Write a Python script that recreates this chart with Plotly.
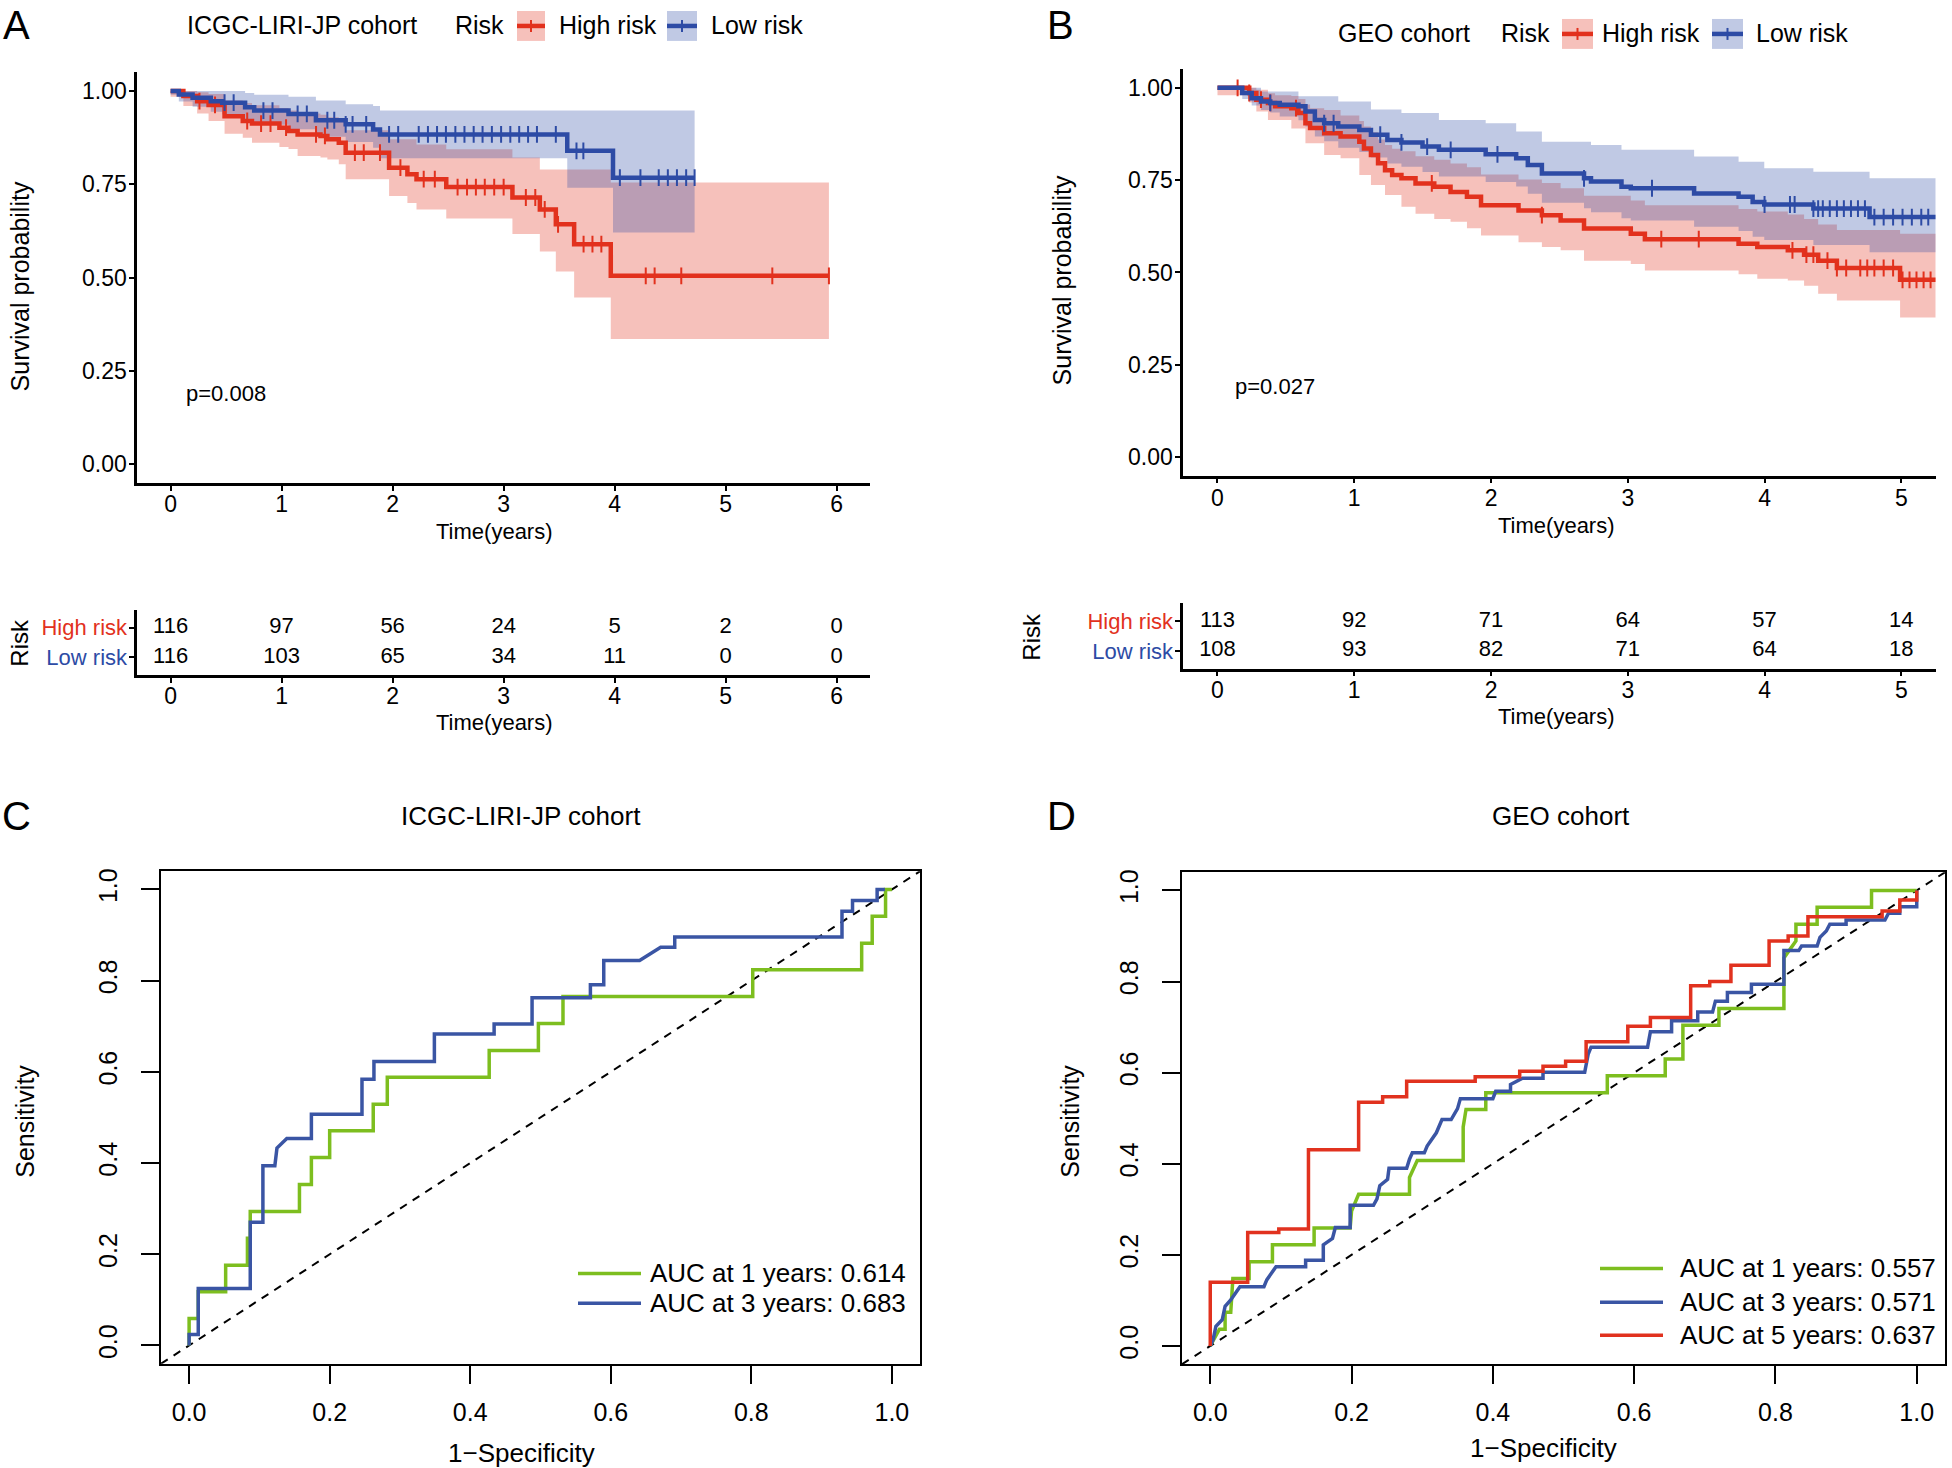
import numpy as np
import plotly.graph_objects as go

W, H = 1952, 1468
FONT = "Liberation Sans, Arial, Helvetica, sans-serif"
RED = "#E2311D"
BLUE = "#2D4BA5"
RED_BAND = "rgba(226,49,29,0.30)"
BLUE_BAND = "rgba(45,75,165,0.30)"
ROC_GREEN = "#7DBE1F"
ROC_BLUE = "#3A55A4"
ROC_RED = "#E1321F"

# ---------------- Panel A: ICGC-LIRI-JP KM ----------------
A_high_t = [0, 0.115, 0.239, 0.342, 0.486, 0.650, 0.733, 0.98, 1.062, 1.144, 1.35, 1.412, 1.515, 1.577,
            1.968, 2.133, 2.215, 2.483, 3.079, 3.326, 3.47, 3.635, 3.965, 5.93]
A_high_s = [1.0, 0.987, 0.973, 0.963, 0.933, 0.92, 0.913, 0.902, 0.893, 0.884, 0.88, 0.871, 0.862, 0.835,
            0.795, 0.777, 0.764, 0.743, 0.715, 0.683, 0.643, 0.590, 0.505, 0.505]
A_high_lo = [0.985, 0.96, 0.94, 0.92, 0.886, 0.875, 0.862, 0.85, 0.845, 0.826, 0.822, 0.817, 0.804, 0.764,
             0.719, 0.70, 0.683, 0.659, 0.617, 0.57, 0.517, 0.447, 0.336, 0.336]
A_high_hi = [1.0, 1.0, 0.997, 0.992, 0.975, 0.968, 0.962, 0.955, 0.948, 0.94, 0.937, 0.93, 0.922, 0.895,
             0.871, 0.871, 0.857, 0.844, 0.822, 0.79, 0.79, 0.79, 0.755, 0.755]
A_high_cens = [0.26, 0.40, 0.69, 0.815, 0.90, 1.04, 1.31, 1.39, 1.66, 1.74, 1.886, 2.07, 2.28, 2.38, 2.585,
               2.67, 2.75, 2.83, 2.915, 3.0, 3.2, 3.285, 3.37, 3.49, 3.72, 3.80, 3.88, 4.28, 4.36, 4.6, 5.42, 5.93]

A_low_t = [0, 0.074, 0.198, 0.362, 0.465, 0.671, 0.753, 1.062, 1.309, 1.577, 1.824, 1.886, 3.573, 3.985, 4.72]
A_low_s = [1.0, 0.991, 0.982, 0.973, 0.969, 0.957, 0.948, 0.939, 0.922, 0.911, 0.897, 0.884, 0.840, 0.768, 0.768]
A_low_lo = [0.99, 0.972, 0.958, 0.945, 0.938, 0.922, 0.91, 0.898, 0.878, 0.864, 0.848, 0.82, 0.741, 0.621, 0.621]
A_low_hi = [1.0, 1.0, 1.0, 1.0, 1.0, 0.995, 0.99, 0.985, 0.975, 0.965, 0.96, 0.948, 0.948, 0.948, 0.948]
A_low_cens = [0.486, 0.568, 0.836, 0.918, 1.144, 1.227, 1.412, 1.474, 1.577, 1.639, 1.762, 1.968, 2.05, 2.235,
              2.318, 2.4, 2.48, 2.565, 2.647, 2.73, 2.81, 2.894, 2.977, 3.06, 3.14, 3.22, 3.3, 3.47, 3.656,
              3.718, 4.047, 4.232, 4.397, 4.479, 4.561, 4.644, 4.72]

A_table_t = [0, 1, 2, 3, 4, 5, 6]
A_table_high = [116, 97, 56, 24, 5, 2, 0]
A_table_low = [116, 103, 65, 34, 11, 0, 0]

# ---------------- Panel B: GEO KM ----------------
B_high_t = [0, 0.232, 0.284, 0.369, 0.421, 0.54, 0.592, 0.643, 0.677, 0.78, 0.9, 1.037, 1.071, 1.122, 1.174,
            1.225, 1.277, 1.345, 1.448, 1.585, 1.704, 1.824, 1.927, 2.201, 2.372, 2.509, 2.68, 3.022, 3.125,
            3.81, 3.947, 4.17, 4.289, 4.392, 4.529, 4.991, 5.3]
B_high_s = [1.0, 0.986, 0.968, 0.959, 0.95, 0.945, 0.932, 0.904, 0.891, 0.877, 0.868, 0.854, 0.836, 0.818,
            0.796, 0.777, 0.764, 0.755, 0.741, 0.732, 0.718, 0.705, 0.682, 0.668, 0.655, 0.641, 0.619, 0.605,
            0.590, 0.578, 0.569, 0.56, 0.548, 0.532, 0.512, 0.480, 0.480]
B_high_lo = [0.98, 0.96, 0.936, 0.913, 0.913, 0.89, 0.89, 0.85, 0.85, 0.818, 0.809, 0.764, 0.764, 0.737,
             0.737, 0.71, 0.71, 0.678, 0.659, 0.645, 0.637, 0.62, 0.60, 0.582, 0.569, 0.56, 0.532, 0.523,
             0.505, 0.495, 0.483, 0.478, 0.464, 0.442, 0.424, 0.378, 0.378]
B_high_hi = [1.0, 1.0, 0.995, 0.985, 0.98, 0.978, 0.97, 0.955, 0.945, 0.94, 0.925, 0.91, 0.895, 0.88, 0.86,
             0.845, 0.835, 0.828, 0.815, 0.805, 0.795, 0.785, 0.765, 0.752, 0.742, 0.728, 0.708, 0.695,
             0.682, 0.672, 0.665, 0.657, 0.645, 0.63, 0.615, 0.605, 0.605]
B_high_cens = [0.147, 0.232, 0.318, 0.386, 0.574, 1.567, 2.372, 3.245, 3.519, 4.204, 4.306, 4.357, 4.46,
               4.529, 4.597, 4.70, 4.751, 4.803, 4.871, 4.94, 5.009, 5.06, 5.111, 5.163, 5.214]

B_low_t = [0, 0.181, 0.25, 0.318, 0.386, 0.455, 0.592, 0.643, 0.712, 0.78, 0.883, 1.037, 1.122, 1.242,
           1.345, 1.499, 1.619, 1.961, 2.184, 2.269, 2.372, 2.68, 2.731, 2.954, 3.022, 3.485, 3.81, 3.913,
           3.998, 4.357, 4.768, 5.3]
B_low_s = [1.0, 0.986, 0.972, 0.963, 0.959, 0.954, 0.95, 0.936, 0.913, 0.904, 0.895, 0.886, 0.873, 0.859,
           0.852, 0.841, 0.832, 0.82, 0.809, 0.791, 0.768, 0.755, 0.746, 0.732, 0.728, 0.714, 0.705, 0.691,
           0.684, 0.673, 0.650, 0.650]
B_low_lo = [1.0, 0.97, 0.952, 0.94, 0.933, 0.922, 0.912, 0.895, 0.868, 0.855, 0.838, 0.826, 0.811, 0.795,
            0.786, 0.772, 0.76, 0.745, 0.733, 0.713, 0.689, 0.674, 0.663, 0.647, 0.641, 0.624, 0.612, 0.597,
            0.588, 0.574, 0.555, 0.555]
B_low_hi = [1.0, 1.0, 1.0, 0.99, 0.99, 0.99, 0.977, 0.977, 0.977, 0.977, 0.963, 0.963, 0.941, 0.941, 0.932,
            0.932, 0.913, 0.904, 0.882, 0.882, 0.854, 0.854, 0.845, 0.832, 0.832, 0.814, 0.8, 0.8, 0.782,
            0.773, 0.755, 0.755]
B_low_cens = [0.386, 0.78, 0.849, 1.19, 1.345, 1.533, 1.705, 2.047, 2.68, 3.177, 4.0, 4.186, 4.22, 4.357,
              4.392, 4.426, 4.477, 4.529, 4.58, 4.632, 4.683, 4.734, 4.803, 4.871, 4.94, 5.009, 5.077,
              5.146, 5.197]

B_table_t = [0, 1, 2, 3, 4, 5]
B_table_high = [113, 92, 71, 64, 57, 14]
B_table_low = [108, 93, 82, 71, 64, 18]

# ---------------- Panel C: ICGC ROC ----------------
C_fpr_1 = [0, 0, 0.013, 0.013, 0.052, 0.052, 0.083, 0.083, 0.087, 0.087, 0.157, 0.157, 0.174, 0.174, 0.2,
           0.2, 0.262, 0.262, 0.282, 0.282, 0.427, 0.427, 0.497, 0.497, 0.532, 0.532, 0.802, 0.802, 0.957,
           0.957, 0.972, 0.972, 0.991, 0.991, 1.0]
C_tpr_1 = [0, 0.059, 0.059, 0.118, 0.118, 0.176, 0.176, 0.235, 0.235, 0.294, 0.294, 0.353, 0.353, 0.412,
           0.412, 0.471, 0.471, 0.529, 0.529, 0.588, 0.588, 0.647, 0.647, 0.706, 0.706, 0.765, 0.765, 0.824,
           0.824, 0.882, 0.882, 0.941, 0.941, 1.0, 1.0]
C_fpr_3 = [0, 0, 0.013, 0.013, 0.087, 0.087, 0.105, 0.105, 0.122, 0.125, 0.139, 0.174, 0.174, 0.246, 0.246,
           0.263, 0.263, 0.349, 0.349, 0.434, 0.434, 0.488, 0.488, 0.571, 0.571, 0.59, 0.59, 0.641, 0.671,
           0.691, 0.691, 0.929, 0.929, 0.944, 0.944, 0.979, 0.979, 0.99]
C_tpr_3 = [0, 0.024, 0.024, 0.125, 0.125, 0.27, 0.27, 0.394, 0.394, 0.433, 0.454, 0.454, 0.507, 0.507,
           0.584, 0.584, 0.623, 0.623, 0.683, 0.683, 0.705, 0.705, 0.7625, 0.7625, 0.791, 0.791, 0.844, 0.844,
           0.873, 0.873, 0.896, 0.896, 0.952, 0.952, 0.976, 0.976, 1.0, 1.0]
C_labels = ["AUC at 1 years: 0.614", "AUC at 3 years: 0.683"]

# ---------------- Panel D: GEO ROC ----------------
D_fpr_1 = [0, 0.013, 0.021, 0.021, 0.029, 0.032, 0.055, 0.055, 0.088, 0.088, 0.147, 0.147, 0.198, 0.2, 0.21,
           0.282, 0.282, 0.293, 0.358, 0.358, 0.362, 0.39, 0.39, 0.562, 0.562, 0.644, 0.644, 0.669, 0.669,
           0.72, 0.72, 0.812, 0.812, 0.829, 0.829, 0.859, 0.859, 0.936, 0.936, 1.0]
D_tpr_1 = [0, 0.037, 0.037, 0.074, 0.074, 0.148, 0.148, 0.185, 0.185, 0.222, 0.222, 0.259, 0.259, 0.296,
           0.333, 0.333, 0.37, 0.407, 0.407, 0.481, 0.519, 0.519, 0.556, 0.556, 0.593, 0.593, 0.63, 0.63,
           0.704, 0.704, 0.741, 0.741, 0.852, 0.889, 0.926, 0.926, 0.963, 0.963, 1.0, 1.0]
D_fpr_3 = [0, 0.004, 0.008, 0.017, 0.021, 0.029, 0.042, 0.076, 0.08, 0.093, 0.135, 0.135, 0.160, 0.160,
           0.173, 0.177, 0.198, 0.198, 0.231, 0.236, 0.24, 0.251, 0.253, 0.278, 0.282, 0.286, 0.303, 0.307,
           0.32, 0.328, 0.341, 0.35, 0.354, 0.4, 0.404, 0.425, 0.425, 0.442, 0.471, 0.471, 0.53, 0.535,
           0.539, 0.619, 0.623, 0.653, 0.653, 0.69, 0.69, 0.711, 0.715, 0.732, 0.732, 0.766, 0.766, 0.812,
           0.812, 0.833, 0.837, 0.859, 0.863, 0.872, 0.877, 0.9, 0.9, 0.955, 0.96, 0.976, 0.976, 1.0, 1.0]
D_tpr_3 = [0, 0.014, 0.043, 0.058, 0.087, 0.101, 0.13, 0.13, 0.145, 0.174, 0.174, 0.188, 0.188, 0.222,
           0.236, 0.26, 0.26, 0.309, 0.309, 0.323, 0.352, 0.366, 0.39, 0.39, 0.41, 0.424, 0.424, 0.439,
           0.468, 0.497, 0.497, 0.521, 0.543, 0.543, 0.559, 0.559, 0.574, 0.588, 0.588, 0.601, 0.601, 0.641,
           0.656, 0.656, 0.69, 0.69, 0.714, 0.714, 0.733, 0.733, 0.757, 0.757, 0.776, 0.776, 0.794, 0.794,
           0.868, 0.868, 0.878, 0.878, 0.897, 0.911, 0.926, 0.926, 0.935, 0.935, 0.95, 0.95, 0.964, 0.964, 1.0]
D_fpr_5 = [0, 0, 0.053, 0.053, 0.097, 0.097, 0.139, 0.139, 0.21, 0.21, 0.244, 0.244, 0.278, 0.278, 0.375,
           0.375, 0.438, 0.438, 0.471, 0.471, 0.503, 0.503, 0.532, 0.532, 0.591, 0.591, 0.623, 0.623, 0.68,
           0.68, 0.707, 0.707, 0.737, 0.737, 0.791, 0.791, 0.818, 0.818, 0.846, 0.846, 0.951, 0.951, 0.976,
           0.976, 1.0, 1.0]
D_tpr_5 = [0, 0.14, 0.14, 0.249, 0.249, 0.257, 0.257, 0.431, 0.431, 0.535, 0.535, 0.547, 0.547, 0.581, 0.581,
           0.591, 0.591, 0.603, 0.603, 0.614, 0.614, 0.625, 0.625, 0.668, 0.668, 0.702, 0.702, 0.721, 0.721,
           0.791, 0.791, 0.8, 0.8, 0.836, 0.836, 0.889, 0.889, 0.9, 0.9, 0.942, 0.942, 0.955, 0.955, 0.979,
           0.979, 1.0]
D_labels = ["AUC at 1 years: 0.557", "AUC at 3 years: 0.571", "AUC at 5 years: 0.637"]

ROC_RANGE = [-0.04, 1.04]


def px(x):
    return x / W


def py(y):
    return 1 - y / H


def step_at(t_arr, s_arr, times):
    idx = np.searchsorted(np.asarray(t_arr), np.asarray(times), side="right") - 1
    idx = np.clip(idx, 0, len(s_arr) - 1)
    return np.asarray(s_arr)[idx]


fig = go.Figure()


def add_band(xa, ya, t, lo, hi, band):
    fig.add_trace(go.Scatter(x=t, y=lo, mode="lines", line=dict(width=0, shape="hv"),
                             xaxis=xa, yaxis=ya, hoverinfo="skip", showlegend=False))
    fig.add_trace(go.Scatter(x=t, y=hi, mode="lines", line=dict(width=0, shape="hv"),
                             fill="tonexty", fillcolor=band,
                             xaxis=xa, yaxis=ya, hoverinfo="skip", showlegend=False))


def add_curve(xa, ya, t, s, cens, color):
    fig.add_trace(go.Scatter(x=t, y=s, mode="lines", line=dict(width=4.5, color=color, shape="hv"),
                             xaxis=xa, yaxis=ya, showlegend=False))
    fig.add_trace(go.Scatter(x=cens, y=step_at(t, s, cens), mode="markers",
                             marker=dict(symbol="line-ns", size=12, line=dict(width=2, color=color)),
                             xaxis=xa, yaxis=ya, showlegend=False))


# Panel A KM
add_band("x", "y", A_high_t, A_high_lo, A_high_hi, RED_BAND)
add_band("x", "y", A_low_t, A_low_lo, A_low_hi, BLUE_BAND)
add_curve("x", "y", A_high_t, A_high_s, A_high_cens, RED)
add_curve("x", "y", A_low_t, A_low_s, A_low_cens, BLUE)

# Panel B KM
add_band("x3", "y3", B_high_t, B_high_lo, B_high_hi, RED_BAND)
add_band("x3", "y3", B_low_t, B_low_lo, B_low_hi, BLUE_BAND)
add_curve("x3", "y3", B_high_t, B_high_s, B_high_cens, RED)
add_curve("x3", "y3", B_low_t, B_low_s, B_low_cens, BLUE)

# Risk tables
for xa, ya, tt, hi, lo in [("x2", "y2", A_table_t, A_table_high, A_table_low),
                           ("x4", "y4", B_table_t, B_table_high, B_table_low)]:
    fig.add_trace(go.Scatter(x=tt, y=[2] * len(tt), mode="text", text=[str(v) for v in hi],
                             textfont=dict(size=22, color="black", family=FONT),
                             xaxis=xa, yaxis=ya, showlegend=False))
    fig.add_trace(go.Scatter(x=tt, y=[1] * len(tt), mode="text", text=[str(v) for v in lo],
                             textfont=dict(size=22, color="black", family=FONT),
                             xaxis=xa, yaxis=ya, showlegend=False))

# ROC panels
for xa, ya in [("x5", "y5"), ("x6", "y6")]:
    fig.add_trace(go.Scatter(x=ROC_RANGE, y=ROC_RANGE, mode="lines",
                             line=dict(color="black", width=2, dash="8px,7px"),
                             xaxis=xa, yaxis=ya, showlegend=False))

fig.add_trace(go.Scatter(x=C_fpr_1, y=C_tpr_1, mode="lines", line=dict(color=ROC_GREEN, width=3.5),
                         xaxis="x5", yaxis="y5", showlegend=False))
fig.add_trace(go.Scatter(x=C_fpr_3, y=C_tpr_3, mode="lines", line=dict(color=ROC_BLUE, width=3.5),
                         xaxis="x5", yaxis="y5", showlegend=False))
fig.add_trace(go.Scatter(x=D_fpr_1, y=D_tpr_1, mode="lines", line=dict(color=ROC_GREEN, width=3.5),
                         xaxis="x6", yaxis="y6", showlegend=False))
fig.add_trace(go.Scatter(x=D_fpr_3, y=D_tpr_3, mode="lines", line=dict(color=ROC_BLUE, width=3.5),
                         xaxis="x6", yaxis="y6", showlegend=False))
fig.add_trace(go.Scatter(x=D_fpr_5, y=D_tpr_5, mode="lines", line=dict(color=ROC_RED, width=3.5),
                         xaxis="x6", yaxis="y6", showlegend=False))

# ---------------- Axes ----------------
km_axis = dict(showline=True, linecolor="black", linewidth=2.7, ticks="outside", ticklen=5, tickwidth=2,
               tickcolor="black", showgrid=False, zeroline=False,
               tickfont=dict(size=23, color="black", family=FONT))
roc_axis = dict(showline=True, mirror=True, linecolor="black", linewidth=1.6, ticks="outside", ticklen=18,
                tickwidth=1.6, tickcolor="black", showgrid=False, zeroline=False, range=ROC_RANGE,
                tickvals=[0, 0.2, 0.4, 0.6, 0.8, 1.0], ticktext=["0.0", "0.2", "0.4", "0.6", "0.8", "1.0"],
                tickfont=dict(size=25, color="black", family=FONT))

surv_ticks = dict(tickvals=[0, 0.25, 0.5, 0.75, 1.0], ticktext=["0.00", "0.25", "0.50", "0.75", "1.00"],
                  range=[-0.05, 1.05], ticklabelstandoff=-2)
risk_ticks = dict(range=[0.4, 2.6], tickvals=[1, 2], ticklabelstandoff=-2,
                  tickfont=dict(size=22, family=FONT),
                  ticktext=["<span style='color:%s'>Low risk</span>" % BLUE,
                            "<span style='color:%s'>High risk</span>" % RED])

layout = dict(
    width=W, height=H, margin=dict(l=0, r=0, t=0, b=0),
    plot_bgcolor="white", paper_bgcolor="white", showlegend=False,
    font=dict(family=FONT, color="black", size=22),
    xaxis=dict(km_axis, domain=[px(137.3), px(870)], range=[-0.3, 6.3], tickvals=A_table_t, anchor="y",
               ticklabelstandoff=-6),
    yaxis=dict(km_axis, domain=[py(481), py(69.6)], anchor="x", **surv_ticks),
    xaxis2=dict(km_axis, domain=[px(137.3), px(870)], range=[-0.3, 6.3], tickvals=A_table_t, anchor="y2",
                ticklabelstandoff=-6),
    yaxis2=dict(km_axis, domain=[py(673.3), py(608)], anchor="x2", **risk_ticks),
    xaxis3=dict(km_axis, domain=[px(1183.3), px(1935.5)], range=[-0.25, 5.25], tickvals=B_table_t,
                anchor="y3", ticklabelstandoff=-5),
    yaxis3=dict(km_axis, domain=[py(473.5), py(66.5)], anchor="x3", **surv_ticks),
    xaxis4=dict(km_axis, domain=[px(1183.3), px(1935.5)], range=[-0.25, 5.25], tickvals=B_table_t,
                anchor="y4", ticklabelstandoff=-6),
    yaxis4=dict(km_axis, domain=[py(667), py(601.6)], anchor="x4", **risk_ticks),
    xaxis5=dict(roc_axis, domain=[px(161), px(920)], anchor="y5", ticklabelstandoff=7),
    yaxis5=dict(roc_axis, domain=[py(1363.5), py(870)], anchor="x5", tickangle=-90, ticklabelstandoff=14),
    xaxis6=dict(roc_axis, domain=[px(1182), px(1945)], anchor="y6", ticklabelstandoff=7),
    yaxis6=dict(roc_axis, domain=[py(1364), py(871)], anchor="x6", tickangle=-90, ticklabelstandoff=14),
)
fig.update_layout(**layout)

# ---------------- Text annotations ----------------
ann = []


def text(x, y, s, size, xanchor="center", angle=0, color="black"):
    ann.append(dict(x=px(x), y=py(y), xref="paper", yref="paper", text=s, showarrow=False,
                    xanchor=xanchor, yanchor="middle", textangle=angle,
                    font=dict(size=size, color=color, family=FONT)))


# panel letters
text(16, 22, "A", 40)
text(1060, 22, "B", 40)
text(16, 815, "C", 40)
text(1061, 815, "D", 40)

# KM headers (legend)
text(185, 22, "ICGC-LIRI-JP cohort", 25, "left")
text(453, 22, "Risk", 25, "left")
text(557, 22, "High risk", 25, "left")
text(709, 22, "Low risk", 25, "left")
text(1336, 30, "GEO cohort", 25, "left")
text(1499, 30, "Risk", 25, "left")
text(1600, 30, "High risk", 25, "left")
text(1754, 30, "Low risk", 25, "left")

# KM axis titles
text(20, 284, "Survival probability", 25, angle=-90)
text(1062, 278, "Survival probability", 25, angle=-90)
text(494, 530, "Time(years)", 22)
text(494, 721, "Time(years)", 22)
text(1556, 524, "Time(years)", 22)
text(1556, 715, "Time(years)", 22)
text(20, 641, "Risk", 24, angle=-90)
text(1032, 635, "Risk", 24, angle=-90)

# ROC titles
text(521, 815, "ICGC-LIRI-JP cohort", 26)
text(1561, 815, "GEO cohort", 26)
text(25, 1121, "Sensitivity", 25, angle=-90)
text(1070, 1121, "Sensitivity", 25, angle=-90)
text(521, 1453, "1\u2212Specificity", 26)
text(1543, 1448, "1\u2212Specificity", 26)

# ROC legends
for lab, y in zip(C_labels, [1273, 1303]):
    text(648, y, lab, 26, "left")
for lab, y in zip(D_labels, [1268, 1302, 1335]):
    text(1678, y, lab, 26, "left")

# p values (data coordinates)
ann.append(dict(x=0.12, y=0.19, xref="x", yref="y", text="p=0.008", showarrow=False, xanchor="left",
                font=dict(size=22, color="black", family=FONT)))
ann.append(dict(x=0.11, y=0.19, xref="x3", yref="y3", text="p=0.027", showarrow=False, xanchor="left",
                font=dict(size=22, color="black", family=FONT)))

fig.update_layout(annotations=ann)

# ---------------- Legend keys (decorations) ----------------
shapes = []


def key(x0, x1, yc, color, band):
    shapes.append(dict(type="rect", xref="paper", yref="paper", x0=px(x0), x1=px(x1),
                       y0=py(yc + 15), y1=py(yc - 15), fillcolor=band, line=dict(width=0), layer="below"))
    shapes.append(dict(type="line", xref="paper", yref="paper", x0=px(x0), x1=px(x1),
                       y0=py(yc), y1=py(yc), line=dict(color=color, width=4.5)))
    xm = (x0 + x1) / 2
    shapes.append(dict(type="line", xref="paper", yref="paper", x0=px(xm), x1=px(xm),
                       y0=py(yc - 6), y1=py(yc + 6), line=dict(color=color, width=2)))


key(517, 545, 23, RED, RED_BAND)
key(667, 697, 23, BLUE, BLUE_BAND)
key(1562, 1593, 31, RED, RED_BAND)
key(1712, 1743, 31, BLUE, BLUE_BAND)


def legline(x0, x1, y, color):
    shapes.append(dict(type="line", xref="paper", yref="paper", x0=px(x0), x1=px(x1),
                       y0=py(y), y1=py(y), line=dict(color=color, width=3.5)))


legline(578, 641, 1273, ROC_GREEN)
legline(578, 641, 1303, ROC_BLUE)
legline(1600, 1663, 1268, ROC_GREEN)
legline(1600, 1663, 1302, ROC_BLUE)
legline(1600, 1663, 1335, ROC_RED)

fig.update_layout(shapes=shapes)

fig.write_html("out.html", config={"displayModeBar": False},
               post_script="document.body.style.margin='0px';document.body.style.overflow='hidden';")
